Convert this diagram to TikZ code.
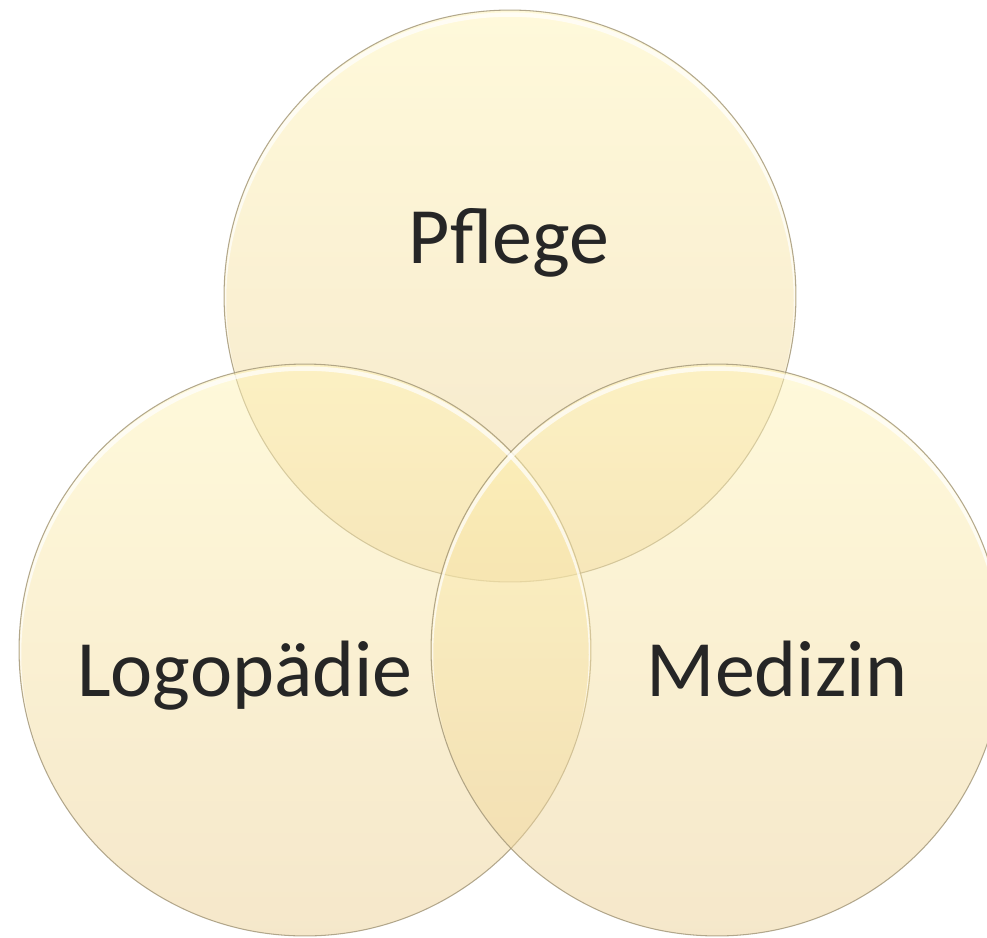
\documentclass[tikz,border=0pt]{standalone}
\usepackage{fontspec}
\setmainfont{Carlito}
\usetikzlibrary{positioning}

\definecolor{venntop}{RGB}{255,244,182}
\definecolor{vennbot}{RGB}{236,208,150}
\definecolor{vennline}{RGB}{160,148,118}
\definecolor{venntext}{RGB}{38,38,38}

\begin{document}
\begin{tikzpicture}[
    x=0.02cm, y=-0.02cm,
    venn/.style={circle, draw=vennline, line width=0.6pt, draw opacity=0.8,
        top color=venntop, bottom color=vennbot, fill opacity=0.5,
        minimum size=11.44cm, inner sep=0pt},
    gloss/.style={white, line width=2.5pt, opacity=0.7},
    lbl/.style={font=\fontsize{45.5}{52}\selectfont, text=venntext, anchor=base}
]
    \useasboundingbox (0,0) rectangle (987,937);

    \node[venn] (pflege) at (510,296) {};
    \node[venn] (logo) at (305,650) {};
    \node[venn] (med) at (717,650) {};

    % glossy rim at the top of each circle
    \foreach \c in {pflege,logo,med} {
        \begin{scope}
            \clip (\c.center) circle[radius=5.70cm];
            \draw[gloss] ([yshift=-0.09cm]\c.center) circle[radius=5.72cm];
        \end{scope}
    }

    \node[lbl] (tp) at (509,263) {Pflege};
    \node[lbl] (tl) at (245,696) {Logopädie};
    \node[lbl] (tm) at (777,696) {Medizin};
\end{tikzpicture}
\end{document}
